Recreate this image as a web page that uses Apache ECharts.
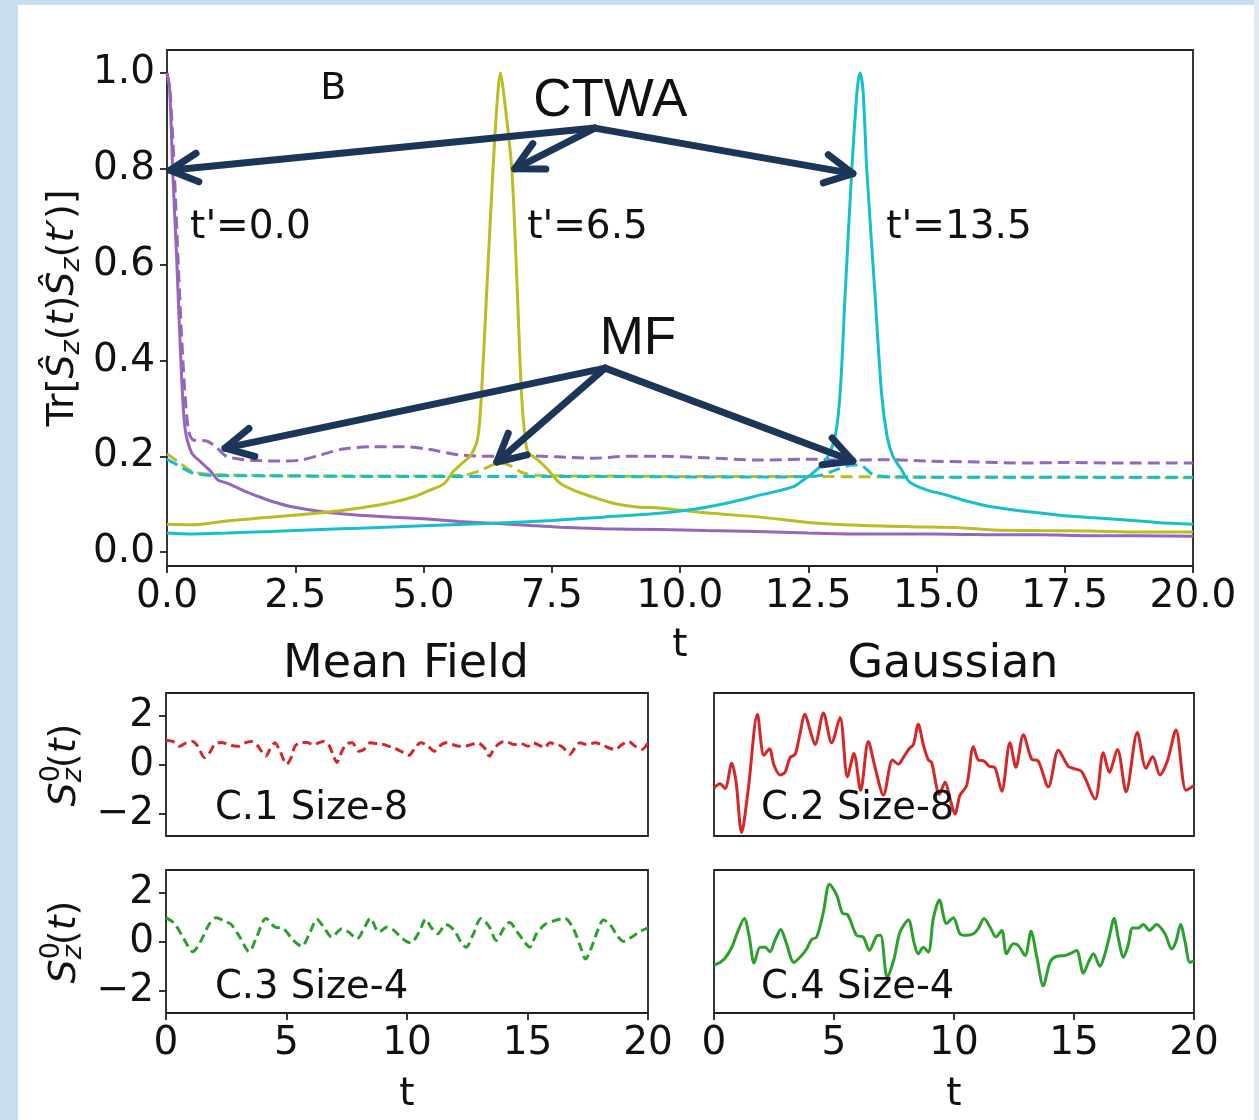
<!DOCTYPE html>
<html><head><meta charset="utf-8">
<script src="https://cdn.jsdelivr.net/npm/echarts@6/dist/echarts.min.js"></script>
<style>html,body{margin:0;padding:0;background:#fff;}#c{width:1259px;height:1120px;}</style>
</head><body><div id="c"></div>
<script>
// ---------- tick labels ----------
const mainXTicks = [0, 2.5, 5, 7.5, 10, 12.5, 15, 17.5, 20];
const mainYTicks = [0, 0.2, 0.4, 0.6, 0.8, 1.0];
const smallXTicks = [0, 5, 10, 15, 20];
const smallYTicks = [-2, 0, 2];

// ---------- panel B : [t, value] ----------
const ctwaT0 = [[0,1.0],[0.05,0.97],[0.11,0.8],[0.19,0.61],[0.27,0.4],[0.35,0.26],[0.48,0.207],[0.64,0.19],[0.84,0.17],[1.0,0.15],[1.17,0.144],[1.5,0.128],[1.81,0.115],[2.1,0.104],[2.46,0.094],[3.1,0.083],[3.76,0.077],[4.4,0.073],[5.07,0.069],[5.7,0.064],[6.36,0.06],[7.0,0.056],[7.66,0.052],[8.5,0.049],[9.6,0.047],[10.5,0.045],[11.5,0.043],[12.5,0.04],[13.5,0.038],[14.5,0.038],[15.5,0.037],[16.1,0.036],[17,0.036],[18,0.034],[19,0.034],[20,0.033]];
const mfT0 = [[0,1.0],[0.06,0.96],[0.14,0.8],[0.22,0.6],[0.31,0.4],[0.41,0.26],[0.51,0.234],[0.77,0.232],[0.95,0.22],[1.16,0.2],[1.5,0.193],[1.8,0.191],[2.2,0.19],[2.6,0.192],[3.0,0.203],[3.43,0.215],[4.0,0.22],[4.6,0.22],[5.07,0.215],[5.7,0.203],[6.4,0.2],[7.0,0.201],[7.6,0.199],[8.3,0.196],[9.0,0.2],[9.6,0.2],[10.5,0.197],[11.56,0.192],[12.5,0.194],[13.25,0.192],[14,0.193],[14.8,0.19],[15.8,0.188],[16.77,0.186],[17.5,0.187],[18.5,0.186],[19.6,0.186],[20,0.186]];
const ctwaT65 = [[0,0.058],[0.5,0.057],[1.17,0.065],[1.8,0.071],[2.46,0.077],[3.1,0.083],[3.76,0.092],[4.4,0.104],[4.8,0.115],[5.07,0.127],[5.4,0.143],[5.58,0.168],[5.75,0.185],[5.94,0.205],[6.06,0.24],[6.13,0.33],[6.23,0.54],[6.355,0.8],[6.45,0.96],[6.5,1.0],[6.56,0.96],[6.72,0.8],[6.83,0.54],[6.91,0.33],[6.98,0.24],[7.04,0.208],[7.2,0.195],[7.4,0.175],[7.66,0.144],[8.0,0.126],[8.3,0.115],[8.7,0.102],[9.16,0.094],[9.6,0.092],[10.5,0.082],[11.56,0.073],[12.5,0.062],[13.5,0.056],[14.5,0.053],[15.46,0.051],[16.1,0.046],[17,0.045],[18,0.044],[19,0.042],[20,0.042]];
const mfT65 = [[0,0.205],[0.2,0.19],[0.5,0.168],[0.9,0.162],[2,0.16],[3,0.159],[4,0.159],[5,0.159],[5.8,0.161],[6.1,0.17],[6.35,0.182],[6.5,0.186],[6.7,0.18],[6.95,0.165],[7.3,0.16],[8,0.159],[10,0.158],[12,0.158],[14,0.157],[16,0.156],[18,0.156],[20,0.155]];
const ctwaT135 = [[0,0.04],[0.5,0.038],[1.17,0.04],[2,0.043],[3,0.047],[3.76,0.05],[5,0.055],[6.36,0.06],[7.5,0.066],[8.5,0.073],[9.6,0.081],[10.3,0.09],[10.9,0.102],[11.56,0.119],[12.2,0.136],[12.4,0.15],[12.53,0.16],[12.83,0.19],[13.02,0.24],[13.12,0.33],[13.22,0.54],[13.35,0.8],[13.45,0.96],[13.51,1.0],[13.57,0.96],[13.64,0.8],[13.8,0.54],[13.93,0.33],[14.04,0.24],[14.15,0.2],[14.3,0.175],[14.48,0.146],[14.8,0.13],[15.13,0.121],[15.6,0.106],[16.1,0.094],[16.8,0.084],[17.4,0.077],[18,0.072],[18.7,0.067],[19.3,0.062],[20,0.058]];
const mfT135 = [[0,0.194],[0.2,0.182],[0.5,0.165],[0.9,0.16],[2,0.159],[4,0.158],[6,0.158],[8,0.158],[10,0.157],[12,0.157],[12.73,0.16],[13.0,0.17],[13.37,0.182],[13.55,0.18],[13.76,0.162],[14.1,0.157],[16,0.156],[18,0.156],[20,0.156]];

// ---------- panels C : [t, S_z^0] ----------
const c1MF8 = [[0,1.01],[0.28,0.97],[0.56,0.77],[0.83,0.91],[1.11,0.97],[1.32,0.77],[1.6,0.31],[1.81,0.51],[2.02,0.84],[2.29,0.93],[2.5,0.88],[2.71,0.8],[2.99,0.77],[3.27,0.91],[3.55,0.97],[3.76,0.84],[3.96,0.57],[4.14,0.37],[4.31,0.64],[4.52,0.91],[4.73,0.57],[5.01,0.04],[5.22,0.37],[5.35,0.77],[5.56,0.91],[5.84,0.93],[6.12,0.84],[6.33,0.91],[6.54,0.97],[6.75,0.84],[6.95,0.37],[7.09,0.11],[7.3,0.57],[7.51,0.88],[7.72,0.91],[8.0,0.57],[8.21,0.64],[8.48,0.91],[8.76,0.88],[9.04,0.84],[9.25,0.77],[9.46,0.71],[9.74,0.57],[10.08,0.4],[10.29,0.64],[10.57,0.91],[10.85,0.8],[11.13,0.57],[11.34,0.77],[11.61,0.91],[11.89,0.84],[12.17,0.77],[12.38,0.77],[12.66,0.84],[12.93,0.91],[13.21,0.71],[13.42,0.37],[13.56,0.57],[13.77,0.84],[14.05,0.97],[14.26,0.91],[14.46,0.84],[14.74,0.88],[15.02,0.77],[15.23,0.91],[15.51,0.8],[15.72,0.71],[15.92,0.91],[16.2,0.84],[16.41,0.77],[16.62,0.57],[16.76,0.44],[16.97,0.71],[17.18,0.91],[17.45,0.84],[17.8,0.91],[18.08,0.84],[18.36,0.71],[18.64,0.64],[18.92,0.84],[19.19,0.97],[19.47,0.77],[19.75,0.64],[20,0.91]];
const c2G8 = [[0,-0.93],[0.25,-0.76],[0.46,-0.96],[0.74,0.08],[0.92,-0.69],[1.15,-2.76],[1.43,-0.96],[1.81,2.08],[2.08,0.4],[2.31,0.67],[2.5,0],[2.75,-0.4],[2.96,-0.29],[3.17,0.31],[3.38,0.44],[3.56,1.17],[3.79,2.08],[4.0,1.44],[4.21,0.84],[4.56,2.13],[4.9,0.91],[5.25,1.95],[5.56,-0.49],[5.83,0.48],[6.11,-1.03],[6.43,0.97],[6.71,-0.09],[7.06,-1.23],[7.44,0.21],[7.68,0.04],[7.89,0.31],[8.13,0.67],[8.31,0.84],[8.51,1.67],[8.72,0.84],[8.93,0.21],[9.07,0.11],[9.39,-1.2],[9.63,-0.69],[9.83,-1.36],[10.04,-2.0],[10.25,-1.23],[10.53,-0.83],[10.81,0.75],[11.01,0.21],[11.25,0.17],[11.47,-0.05],[11.71,-0.11],[11.99,-1.07],[12.33,0.91],[12.58,-0.09],[12.89,1.24],[13.24,0.24],[13.51,0.17],[13.93,-0.89],[14.35,0.61],[14.76,-0.05],[14.96,-0.13],[15.32,-0.27],[15.88,-1.39],[16.22,0.51],[16.47,-0.29],[16.81,0.64],[17.17,-1.09],[17.64,1.33],[18.0,-0.13],[18.28,0.35],[18.58,-0.4],[18.89,0.17],[19.25,1.44],[19.67,-1.03],[20,-0.83]];
const c3MF4 = [[0,1.0],[0.35,0.76],[0.7,0.21],[1.11,-0.39],[1.46,0.07],[1.81,0.76],[2.09,1.0],[2.43,0.86],[2.71,0.72],[3.06,0.21],[3.45,-0.39],[3.76,0.21],[4.15,0.97],[4.52,0.62],[4.87,0.55],[5.29,0.07],[5.63,-0.17],[5.98,0.41],[6.26,0.94],[6.54,0.62],[6.88,0.21],[7.3,0.55],[7.58,0.41],[7.93,0.14],[8.21,0.55],[8.48,0.97],[8.83,0.41],[9.18,0.62],[9.46,0.48],[9.81,0.14],[10.15,-0.03],[10.5,0.41],[10.78,0.94],[10.99,0.62],[11.27,0.34],[11.61,0.72],[11.96,0.48],[12.24,0],[12.45,-0.21],[12.73,0.28],[13.07,0.97],[13.42,0.62],[13.7,0.07],[14.05,0.62],[14.26,0.8],[14.53,0.48],[14.88,0],[15.09,-0.21],[15.37,0.34],[15.72,0.72],[16.06,0.86],[16.55,0.97],[16.9,0.55],[17.18,-0.14],[17.41,-0.69],[17.66,-0.21],[17.94,0.55],[18.15,0.9],[18.43,0.72],[18.71,0.28],[18.98,0.03],[19.33,0.21],[19.68,0.44],[20,0.58]];
const c4G4 = [[0,-0.94],[0.25,-0.83],[0.46,-0.66],[0.74,-0.21],[1.01,0.48],[1.26,0.97],[1.47,0.21],[1.67,-0.86],[1.92,-0.21],[2.13,-0.21],[2.33,-0.39],[2.54,0.07],[2.78,0.52],[3.0,0],[3.33,-0.83],[3.58,-0.62],[3.86,-0.28],[4.07,0.11],[4.28,0.21],[4.56,1.24],[4.81,2.37],[5.11,1.93],[5.36,1.17],[5.56,1.13],[5.94,0.28],[6.22,0.21],[6.47,-0.34],[6.78,0.25],[6.94,0.28],[7.22,-1.45],[7.5,-0.69],[7.75,0.41],[8.1,0.9],[8.33,0],[8.51,-0.48],[8.72,-0.21],[8.93,-0.41],[9.14,0.97],[9.39,1.72],[9.69,0.76],[9.97,1.0],[10.25,0.34],[10.53,0.28],[10.81,0.34],[11.01,0.55],[11.25,0.97],[11.5,0.62],[11.75,0.21],[11.99,0.48],[12.19,-0.48],[12.47,-0.07],[12.68,-0.14],[12.96,-0.55],[13.21,0.44],[13.44,-0.55],[13.72,-1.79],[14.0,-0.83],[14.28,-0.58],[14.63,-0.55],[14.9,-0.44],[15.11,-0.34],[15.39,-1.27],[15.6,-0.83],[15.81,-0.48],[16.08,-0.99],[16.29,-0.48],[16.47,0.21],[16.67,0.97],[16.85,0.14],[17.06,-0.62],[17.26,-0.11],[17.44,0.58],[17.68,0.58],[17.89,0.72],[18.14,0.48],[18.44,0.72],[18.79,0.34],[19.07,-0.28],[19.25,0.03],[19.44,0.72],[19.63,0],[19.83,-0.83],[20,-0.76]];

// ---------- annotation anchors (data coords of panel B) ----------
const ctwaFrom = [8.34, 0.885];
const ctwaTo = [[0.06, 0.797], [6.78, 0.80], [13.37, 0.79]];
const mfFrom = [8.54, 0.384];
const mfTo = [[1.13, 0.217], [6.43, 0.188], [13.37, 0.19]];

// ---------- styling ----------
const COL = {purple:'#9467bd', olive:'#bcbd22', cyan:'#17becf', red:'#d62728', green:'#2ca02c', arrow:'#1c3659', frame:'#222'};
const FONT = 'DejaVu Sans';
const TICK_FS = 39;
const minus = v => (v < 0 ? '\u2212' + Math.abs(v) : String(v));

const chart = echarts.init(document.getElementById('c'), null, {renderer:'canvas'});

const grids = [
  {left:167, top:50, width:1026, height:516},
  {left:166, top:693, width:482, height:143},
  {left:714, top:693, width:480, height:143},
  {left:166, top:870, width:482, height:143},
  {left:714, top:870, width:480, height:143}
].map(g => Object.assign(g, {show:true, borderColor:COL.frame, borderWidth:1.8, backgroundColor:'#fff'}));

const tickStyle = {lineStyle:{color:COL.frame, width:1.8}, length:7, inside:false};
const labelBase = {fontFamily:FONT, fontSize:TICK_FS, color:'#111'};
const nameStyle = {fontFamily:FONT, fontSize:TICK_FS, color:'#111'};

const xAxes = [
  {gridIndex:0, type:'value', min:0, max:20, position:'bottom', axisLine:{show:false, onZero:false}, splitLine:{show:false},
   axisTick:Object.assign({customValues:mainXTicks}, tickStyle),
   axisLabel:Object.assign({customValues:mainXTicks, margin:11, formatter:v=>v.toFixed(1)}, labelBase),
   name:'t', nameLocation:'middle', nameGap:60, nameTextStyle:nameStyle},
];
const yAxes = [
  {gridIndex:0, type:'value', min:-0.029, max:1.048, position:'left', axisLine:{show:false, onZero:false}, splitLine:{show:false},
   axisTick:Object.assign({customValues:mainYTicks}, tickStyle),
   axisLabel:Object.assign({customValues:mainYTicks, margin:12, formatter:v=>v.toFixed(1)}, labelBase)},
];
for (let i = 1; i <= 4; i++) {
  const bottomRow = i >= 3, leftCol = (i % 2 === 1);
  xAxes.push({gridIndex:i, type:'value', min:0, max:20, position:'bottom', axisLine:{show:false, onZero:false}, splitLine:{show:false},
    axisTick:Object.assign({show:bottomRow, customValues:smallXTicks}, tickStyle),
    axisLabel:Object.assign({show:bottomRow, customValues:smallXTicks, margin:11, formatter:v=>String(v)}, labelBase),
    name: bottomRow ? 't' : '', nameLocation:'middle', nameGap:62, nameTextStyle:nameStyle});
  yAxes.push({gridIndex:i, type:'value', min:-2.9, max:2.95, position:'left', axisLine:{show:false, onZero:false}, splitLine:{show:false},
    axisTick:Object.assign({show:leftCol, customValues:smallYTicks}, tickStyle),
    axisLabel:Object.assign({show:leftCol, customValues:smallYTicks, margin:12, formatter:minus}, labelBase)});
}

function line(name, data, color, dashed, idx, dash) {
  return {type:'line', name, data, xAxisIndex:idx, yAxisIndex:idx, showSymbol:false, symbol:'none',
    smooth:0.3, clip:false, animation:false,
    lineStyle:{color, width:3, type: dashed ? dash : 'solid', cap:'butt'}};
}

const series = [
  line('MF t\'=0.0', mfT0, COL.purple, true, 0, [12,6]),
  line('MF t\'=6.5', mfT65, COL.olive, true, 0, [12,6]),
  line('MF t\'=13.5', mfT135, COL.cyan, true, 0, [12,6]),
  line('CTWA t\'=0.0', ctwaT0, COL.purple, false, 0),
  line('CTWA t\'=6.5', ctwaT65, COL.olive, false, 0),
  line('CTWA t\'=13.5', ctwaT135, COL.cyan, false, 0),
  line('C.1', c1MF8, COL.red, true, 1, [9,5]),
  line('C.2', c2G8, COL.red, false, 2),
  line('C.3', c3MF4, COL.green, true, 3, [9,5]),
  line('C.4', c4G4, COL.green, false, 4)
];

chart.setOption({animation:false, backgroundColor:'#fff', grid:grids, xAxis:xAxes, yAxis:yAxes, series});

// ---------- graphic overlays ----------
const cvs = document.createElement('canvas').getContext('2d');
function measure(txt, size, italic) {
  cvs.font = (italic ? 'oblique ' : '') + size + 'px "' + FONT + '"';
  return cvs.measureText(txt).width;
}
function mathLabel(parts, cx, cy, rot) {
  let x = 0; const kids = [];
  parts.forEach(p => {
    kids.push({type:'text', x:x, y:p.dy || 0, style:{text:p.t, fontFamily:FONT, fontSize:p.s, fontStyle:p.it?'italic':'normal', fill:'#111', align:'left', verticalAlign:'middle'}});
    if (!p.stack) x += measure(p.t, p.s, p.it);
  });
  kids.forEach(k => k.x -= x / 2);
  return {type:'group', x:cx, y:cy, rotation:rot, children:kids};
}
const P = (g, pt) => chart.convertToPixel({gridIndex:g}, pt);

function arrow(from, to) {
  const a = P(0, from), b = P(0, to);
  const ang = Math.atan2(a[1]-b[1], a[0]-b[0]);
  const L = 31, h = 0.48;
  const p1 = [b[0] + L*Math.cos(ang+h), b[1] + L*Math.sin(ang+h)];
  const p2 = [b[0] + L*Math.cos(ang-h), b[1] + L*Math.sin(ang-h)];
  const st = {stroke:COL.arrow, lineWidth:7, lineCap:'round', lineJoin:'round', fill:null};
  return [
    {type:'line', shape:{x1:a[0], y1:a[1], x2:b[0], y2:b[1]}, style:st, z:50},
    {type:'polyline', shape:{points:[p1, b, p2]}, style:st, z:50}
  ];
}
function txt(g, pt, text, size, family, align) {
  const p = P(g, pt);
  return {type:'text', x:p[0], y:p[1], z:60, style:{text, fontFamily:family, fontSize:size, fill:'#111', align:align||'left', verticalAlign:'middle'}};
}

const gfx = [
  {type:'rect', shape:{x:0, y:0, width:18, height:1120}, style:{fill:'#cadef2'}, z:-10},
  {type:'rect', shape:{x:0, y:0, width:1259, height:5}, style:{fill:'#cadef2'}, z:-10},
  {type:'rect', shape:{x:1254, y:0, width:5, height:1120}, style:{fill:'#dde9f6'}, z:-10},
];
ctwaTo.forEach(t => gfx.push(...arrow(ctwaFrom, t)));
mfTo.forEach(t => gfx.push(...arrow(mfFrom, t)));
gfx.push(txt(0, [8.64, 0.94], 'CTWA', 53, 'Liberation Sans', 'center'));
gfx.push(txt(0, [9.18, 0.443], 'MF', 53, 'Liberation Sans', 'center'));
gfx.push(txt(0, [3.24, 0.966], 'B', 38, FONT, 'center'));
gfx.push(txt(0, [0.45, 0.676], "t'=0.0", 39, FONT));
gfx.push(txt(0, [7.02, 0.676], "t'=6.5", 39, FONT));
gfx.push(txt(0, [14.02, 0.676], "t'=13.5", 39, FONT));
gfx.push(txt(1, [2.03, -1.8], 'C.1 Size-8', 38.5, FONT));
gfx.push(txt(2, [1.96, -1.8], 'C.2 Size-8', 38.5, FONT));
gfx.push(txt(3, [2.03, -1.88], 'C.3 Size-4', 38.5, FONT));
gfx.push(txt(4, [1.96, -1.88], 'C.4 Size-4', 38.5, FONT));
gfx.push({type:'text', x:406, y:665, style:{text:'Mean Field', fontFamily:FONT, fontSize:46, fill:'#111', align:'center', verticalAlign:'middle'}});
gfx.push({type:'text', x:953, y:665, style:{text:'Gaussian', fontFamily:FONT, fontSize:46, fill:'#111', align:'center', verticalAlign:'middle'}});
gfx.push(mathLabel([
  {t:'Tr[', s:38}, {t:'\u015C', s:38, it:true}, {t:'z', s:27, it:true, dy:9},
  {t:'(', s:38}, {t:'t', s:38, it:true}, {t:')', s:38},
  {t:'\u015C', s:38, it:true}, {t:'z', s:27, it:true, dy:9},
  {t:'(', s:38}, {t:'t\u2032', s:38, it:true}, {t:')]', s:38}
], 63, 308, Math.PI/2));
const sLabel = [{t:'S', s:38, it:true}, {t:'0', s:27, dy:-13, stack:true}, {t:'z', s:27, it:true, dy:9},
  {t:'(', s:38}, {t:'t', s:38, it:true}, {t:')', s:38}];
gfx.push(mathLabel(sLabel, 65, 765, Math.PI/2));
gfx.push(mathLabel(sLabel, 65, 942, Math.PI/2));
chart.setOption({graphic:gfx});
</script></body></html>
